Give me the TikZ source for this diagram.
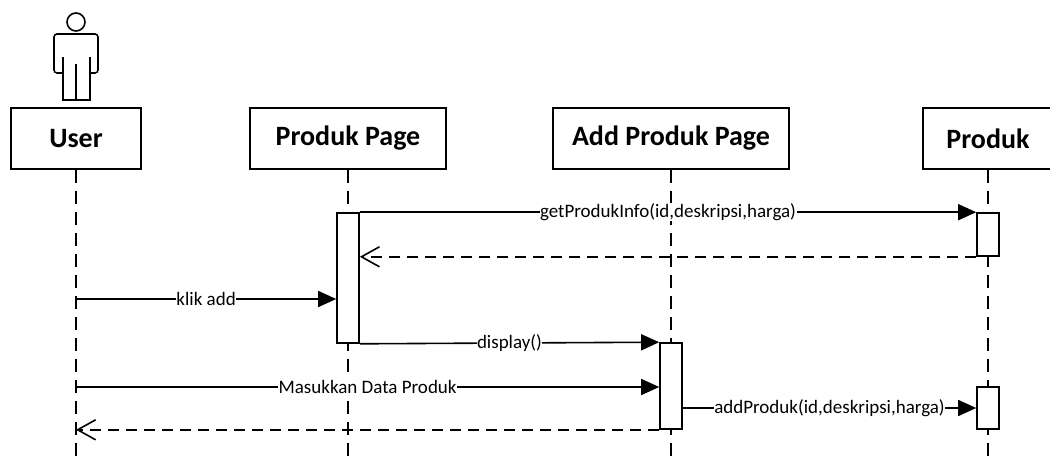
\documentclass[tikz,border=0pt]{standalone}
\usepackage{fontspec}
\setmainfont{Carlito}
\usetikzlibrary{positioning, arrows.meta}
\tikzstyle{obj}=[draw, line width=1.6pt, fill=white, minimum width=130pt, minimum height=61pt, font=\fontsize{28}{32}\selectfont\bfseries]
\tikzstyle{act}=[draw, line width=1.6pt, fill=white, minimum width=22pt, inner sep=0pt]
\tikzstyle{life}=[line width=1.6pt, dash pattern=on 13pt off 8pt]
\tikzstyle{msg}=[line width=1.6pt, -{Triangle[length=18pt,width=16pt]}]
\tikzstyle{ret}=[line width=1.6pt, dash pattern=on 11pt off 7pt, -{Straight Barb[length=18pt,width=20pt]}]
\tikzstyle{lbl}=[fill=white, inner sep=0.5pt, font=\fontsize{19}{22}\selectfont]

\begin{document}
\begin{tikzpicture}[x=1pt, y=-1pt, node distance=272pt]
\useasboundingbox (0,0) rectangle (1050,460);
% actor
\draw[line width=1.6pt] (76,22) circle (9pt);
\draw[line width=1.6pt, rounded corners=3pt] (63,73) -- (54,73) -- (54,34) -- (98,34) -- (98,73) -- (90,73);
\draw[line width=1.6pt] (63,57) -- (63,100) -- (90,100) -- (90,57);
\draw[line width=1.6pt] (76,64) -- (76,100);
% objects
\node [obj] (user) at (76,138.5) {User};
\node [obj, right of=user, minimum width=196pt] (ppage) {Produk Page};
\node [obj, right of=ppage, minimum width=236pt, node distance=323pt] (apage) {Add Produk Page};
\node [obj, right of=apage, node distance=317pt] (produk) {Produk};
% lifelines
\coordinate (userend) at (user |- 0,460);
\coordinate (ppageend) at (ppage |- 0,460);
\coordinate (apageend) at (apage |- 0,460);
\coordinate (produkend) at (produk |- 0,460);
\draw[life] (user) -- (userend);
\draw[life] (ppage) -- (ppageend);
\draw[life] (apage) -- (apageend);
\draw[life] (produk) -- (produkend);
% activations
\node [act, minimum height=130pt] (a1) at (ppage |- 0,278) {};
\node [act, minimum height=43pt] (a2) at (produk |- 0,234.5) {};
\node [act, minimum height=86pt] (a3) at (apage |- 0,386) {};
\node [act, minimum height=42pt] (a4) at (produk |- 0,408) {};
% messages
\coordinate (u1) at (user |- 0,299);
\coordinate (u2) at (user |- 0,387);
\path[msg] (a1.north east) edge node[lbl] {getProdukInfo(id,deskripsi,harga)} (a2.north west);
\path[ret] (a2.south west) edge (a1.east |- a2.south west);
\path[msg] (u1) edge node[lbl] {klik add} (a1.west |- u1);
\path[msg] (a1.south east) edge node[lbl] {display()} (a3.north west);
\path[msg] (u2) edge node[lbl] {Masukkan Data Produk} (a3.west |- u2);
\path[ret] (a3.south west) edge (user |- a3.south west);
\path[msg] (a3.east |- a4.west) edge node[lbl] {addProduk(id,deskripsi,harga)} (a4.west);
\end{tikzpicture}
\end{document}
